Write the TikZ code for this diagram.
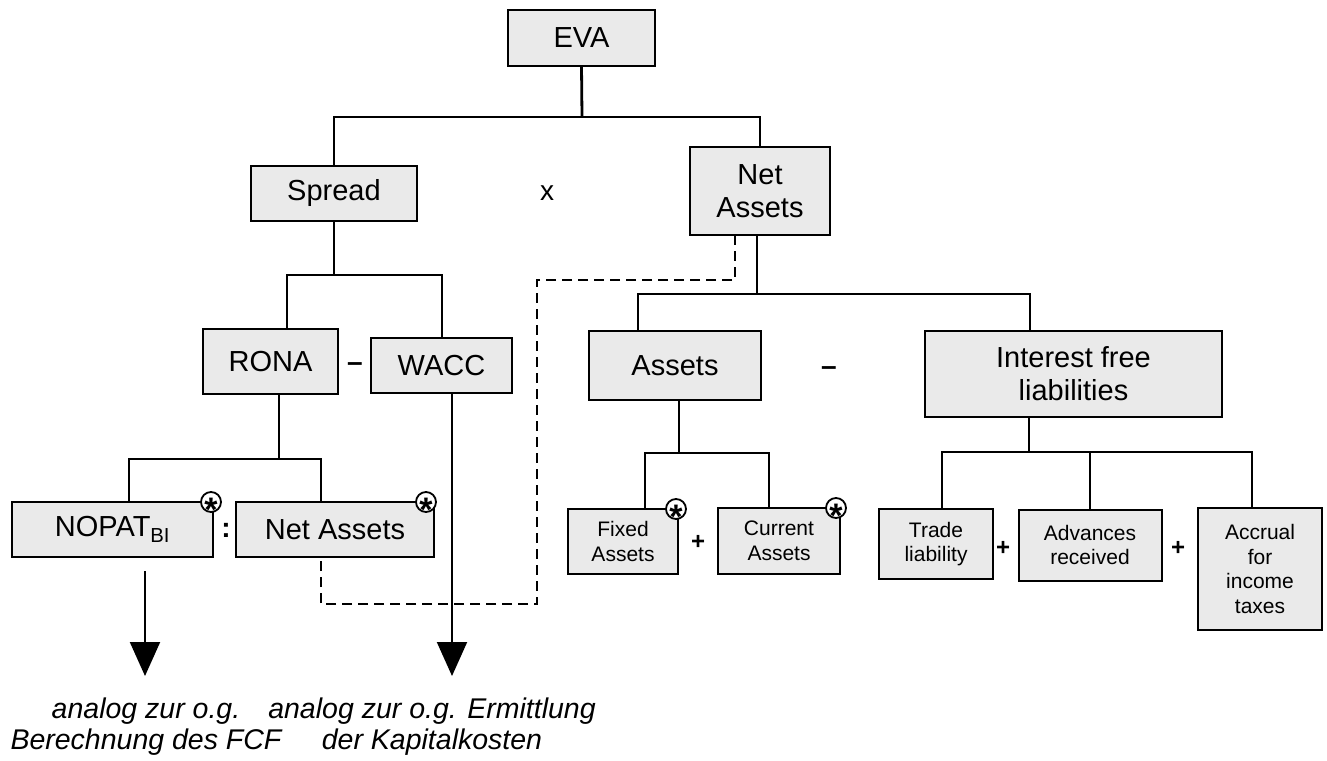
\documentclass[tikz,border=0pt]{standalone}
\usepackage{fontspec}
\setmainfont{Liberation Sans}
\usetikzlibrary{arrows.meta}
\definecolor{boxfill}{RGB}{234,234,234}
\begin{document}
\begin{tikzpicture}[x=1pt,y=-1pt,
  box/.style={draw, fill=boxfill, line width=2pt, inner sep=0pt, outer sep=0pt,
    align=center, font=\fontsize{29}{33}\selectfont},
  smallbox/.style={box, font=\fontsize{21}{24.5}\selectfont},
  dim/.style 2 args={minimum width=#1pt, minimum height=#2pt},
  link/.style={line width=2pt},
  stem/.style={line width=2.8pt},
  dashline/.style={line width=2pt, dash pattern=on 10pt off 6pt},
  arrowline/.style={line width=2pt, -{Triangle[length=34pt,width=30pt]}},
  op/.style={font=\fontsize{28}{28}\selectfont\bfseries, inner sep=0pt},
  plusop/.style={font=\fontsize{24}{24}\selectfont\bfseries, inner sep=0pt},
  starc/.style={circle, draw, fill=white, line width=1.8pt, minimum size=20pt, inner sep=0pt},
  startxt/.style={font=\fontsize{34}{34}\selectfont\bfseries, inner sep=0pt, anchor=base},
  note/.style={align=center, inner sep=0pt, font=\fontsize{28.5}{31}\selectfont\itshape}
]
\useasboundingbox (0,0) rectangle (1327,760);

% ---- boxes ----
\node[box, dim={147}{56}] (eva) at (581.5,38) {EVA};
\node[box, dim={166}{55}] (spread) at (334,193.5) {Spread};
\node[box, dim={140}{88}] (neta) at (760,191) {Net\\Assets};
\node[box, dim={135}{65}] (rona) at (270.5,361.5) {RONA};
\node[box, dim={141}{55}] (wacc) at (441.5,365.5) {WACC};
\node[box, dim={201}{55}] (nopat) at (112.5,529.5) {NOPAT\textsubscript{BI}};
\node[box, dim={198}{55}] (nal) at (335,529.5) {Net Assets};
\node[box, dim={172}{69}] (assets) at (675,365.5) {Assets};
\node[box, dim={297}{86}] (ifl) at (1073.5,373.5) {Interest free\\liabilities};
\node[smallbox, dim={110}{65}] (fixed) at (623,541.5) {Fixed\\Assets};
\node[smallbox, dim={122}{66}] (current) at (779,541) {Current\\Assets};
\node[smallbox, dim={114}{70}] (trade) at (936,544) {Trade\\liability};
\node[smallbox, dim={143}{71}] (adv) at (1090,545) {Advances\\received};
\node[smallbox, dim={124}{122}] (accr) at (1260,569) {Accrual\\for\\income\\taxes};

% ---- operators ----
\node[font=\fontsize{28}{28}\selectfont, inner sep=0pt] (times) at (547,193) {x};
\node[op] (minus1) at (355,367) {--};
\node[op] (colon) at (226,530) {:};
\node[op] (minus2) at (829,371) {--};
\node[plusop] (plus1) at (698,542) {+};
\node[plusop] (plus2) at (1003,548) {+};
\node[plusop] (plus3) at (1178,548) {+};

% ---- tree connectors ----
\coordinate (jE) at (582,117);
\draw[stem] (eva.south) -- (jE);
\draw[link] (spread.north) |- (jE) -| (neta.north);

\coordinate (jS) at (334,275);
\draw[stem] (spread.south) -- (jS);
\draw[link] ([xshift=16.5pt]rona.north) |- (jS) -| (wacc.north);

\coordinate (jR) at (279,459);
\draw[stem] ([xshift=8.5pt]rona.south) -- (jR);
\draw[link] ([xshift=16.5pt]nopat.north) |- (jR) -| ([xshift=-14pt]nal.north);

\coordinate (jN) at (757,294);
\draw[stem] ([xshift=-3pt]neta.south) -- (jN);
\draw[link] ([xshift=-37pt]assets.north) |- (jN) -| ([xshift=-43.5pt]ifl.north);

\coordinate (jA) at (679,453);
\draw[stem] ([xshift=4pt]assets.south) -- (jA);
\draw[link] ([xshift=22pt]fixed.north) |- (jA) -| ([xshift=-10pt]current.north);

\coordinate (jL) at (1029,452);
\draw[stem] ([xshift=-44.5pt]ifl.south) -- (jL);
\draw[link] ([xshift=6pt]trade.north) |- (jL) -| ([xshift=-8pt]accr.north);
\draw[link] (adv.north) -- (adv.north |- jL);

% ---- dashed link between the two Net Assets ----
\coordinate (dA) at (537,280);
\coordinate (dB) at (321,604);
\draw[dashline] ([xshift=-25pt]neta.south) |- (dA) |- (dB) -- ([xshift=-14pt]nal.south);

% ---- arrows to the notes ----
\node[note] (note1) at (146,727) {analog zur o.g.\\Berechnung des FCF};
\node[note] (note2) at (432,727) {analog zur o.g. Ermittlung\\der Kapitalkosten};
\coordinate (a1) at (145,571);
\coordinate (t1) at (145,676);
\coordinate (t2) at (452,676);
\draw[arrowline] (a1) -- (t1);
\draw[arrowline] ([xshift=10.5pt]wacc.south) -- (t2);

% ---- asterisk markers ----
\foreach \n/\dx in {nopat/-2, nal/-8, fixed/-2, current/-4} {
  \node[starc] (star-\n) at ([xshift=\dx pt]\n.north east) {};
  \node[startxt] (ast-\n) at ([yshift=-19.5pt]star-\n.center) {*};
}
\end{tikzpicture}
\end{document}
